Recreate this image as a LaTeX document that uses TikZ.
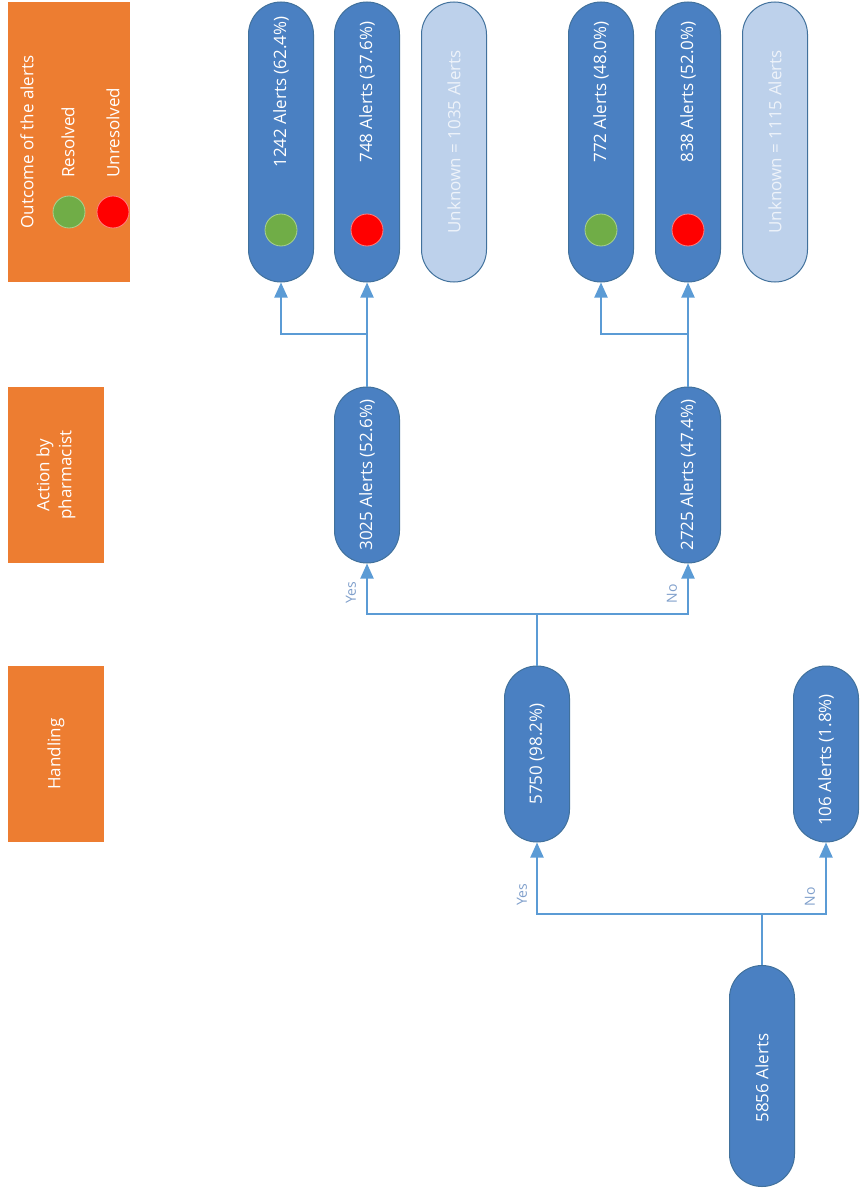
\documentclass[tikz,border=0pt]{standalone}
\usepackage{fontspec}
\setmainfont{Open Sans}
\usetikzlibrary{shapes.misc,arrows.meta}
\definecolor{orng}{HTML}{ED7D31}
\definecolor{pillfill}{HTML}{4A80C2}
\definecolor{pillborder}{HTML}{41719C}
\definecolor{unkfill}{HTML}{BDD1EB}
\definecolor{unktext}{HTML}{EEF3FA}
\definecolor{linecol}{HTML}{5B9BD5}
\definecolor{lblcol}{HTML}{7F9FCB}
\definecolor{greenc}{HTML}{70AD47}
\definecolor{greenb}{HTML}{A9D18E}
\definecolor{redc}{HTML}{FF0000}
\definecolor{redb}{HTML}{FF7F7F}
\begin{document}
\begin{tikzpicture}[x=1pt,y=-1pt,
  pill/.style={rounded rectangle, draw=pillborder, fill=pillfill, line width=1pt, rotate=90, inner sep=0pt, minimum height=65pt},
  unk/.style={pill, fill=unkfill, text=unktext, font=\fontsize{17}{20}\selectfont},
  ptext/.style={rotate=90, text=white, font=\fontsize{17}{20}\selectfont, inner sep=0pt},
  obox/.style={rectangle, fill=orng, rotate=90, inner sep=0pt, text=white, font=\fontsize{17}{22}\selectfont, align=center},
  otext/.style={rotate=90, text=white, font=\fontsize{17}{20}\selectfont, inner sep=0pt},
  lbl/.style={rotate=90, text=lblcol, font=\fontsize{14}{16}\selectfont, inner sep=0pt},
  conn/.style={draw=linecol, line width=2pt},
  arr/.style={conn, -{Triangle[width=13pt,length=15pt]}},
  gdot/.style={circle, fill=greenc, draw=greenb, line width=0.8pt, minimum size=32pt, inner sep=0pt},
  rdot/.style={circle, fill=redc, draw=redb, line width=0.8pt, minimum size=32pt, inner sep=0pt}]
\useasboundingbox (0,0) rectangle (860,1193);

% header boxes
\node[obox, minimum width=280pt, minimum height=122pt] (hout) at (69,142) {};
\node[otext] (tout) at (27,142) {Outcome of the alerts};
\node[otext, anchor=west] (tres) at (68,178) {Resolved};
\node[otext, anchor=west] (tunres) at (113,178) {Unresolved};
\node[gdot] (lg) at (69,212) {};
\node[rdot] (lr) at (113,212) {};
\node[obox, minimum width=176pt, minimum height=96pt] (hact) at (56,475) {Action by\\pharmacist};
\node[obox, minimum width=176pt, minimum height=96pt] (hhand) at (56,754) {Handling};

% outcome pills
\node[pill, minimum width=280pt] (n1242) at (281,142) {};
\node[ptext] (t1242) at (281,92) {1242 Alerts (62.4\%)};
\node[gdot] (g1242) at (281,230) {};
\node[pill, minimum width=280pt] (n748) at (367,142) {};
\node[ptext] (t748) at (367,92) {748 Alerts (37.6\%)};
\node[rdot] (r748) at (367,230) {};
\node[unk, minimum width=280pt] (u1035) at (454,142) {Unknown = 1035 Alerts};

\node[pill, minimum width=280pt] (n772) at (601,142) {};
\node[ptext] (t772) at (601,92) {772 Alerts (48.0\%)};
\node[gdot] (g772) at (601,230) {};
\node[pill, minimum width=280pt] (n838) at (688,142) {};
\node[ptext] (t838) at (688,92) {838 Alerts (52.0\%)};
\node[rdot] (r838) at (688,230) {};
\node[unk, minimum width=280pt] (u1115) at (775,142) {Unknown = 1115 Alerts};

% action pills
\node[pill, minimum width=176pt] (n3025) at (367,475) {};
\node[ptext] (t3025) at (367,475) {3025 Alerts (52.6\%)};
\node[pill, minimum width=176pt] (n2725) at (688,475) {};
\node[ptext] (t2725) at (688,475) {2725 Alerts (47.4\%)};

% handling pills
\node[pill, minimum width=176pt] (n5750) at (537,754) {};
\node[ptext] (t5750) at (537,754) {5750 (98.2\%)};
\node[pill, minimum width=176pt] (n106) at (826,754) {};
\node[ptext] (t106) at (826,760) {106 Alerts (1.8\%)};

% root
\node[pill, minimum width=221pt] (n5856) at (762,1076) {};
\node[ptext] (t5856) at (762,1078) {5856 Alerts};

% junctions
\coordinate (j1) at (762,914);
\coordinate (j2) at (537,614);
\coordinate (j3) at (367,334);
\coordinate (j4) at (688,334);

\draw[conn] (n5856.east) -- (j1);
\draw[arr] (j1) -| (n5750.west);
\draw[arr] (j1) -| (n106.west);
\node[lbl] (yes1) at (522,895) {Yes};
\node[lbl] (no1) at (810,897) {No};

\draw[conn] (n5750.east) -- (j2);
\draw[arr] (j2) -| (n3025.west);
\draw[arr] (j2) -| (n2725.west);
\node[lbl] (yes2) at (351,593) {Yes};
\node[lbl] (no2) at (672,594) {No};

\draw[arr] (n3025.east) -- (n748.west);
\draw[arr] (j3) -| (n1242.west);
\draw[arr] (n2725.east) -- (n838.west);
\draw[arr] (j4) -| (n772.west);
\end{tikzpicture}
\end{document}
